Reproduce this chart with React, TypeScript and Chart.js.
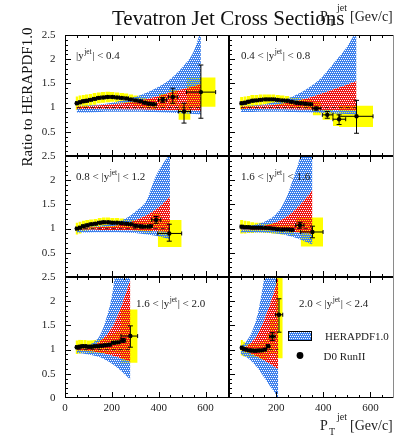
import React, { useEffect, useRef } from "react";
import { Chart, registerables } from "chart.js";
Chart.register(...registerables);

const SERIF = "'Liberation Serif', 'Times New Roman', serif";

// ---------- data: panel 1 (|y| < 0.4) ----------
const p1Pt = [50, 64, 78, 92, 109, 126, 144, 163, 182, 202, 222, 242, 262, 281, 301, 321, 341, 359, 378, 417, 460, 508, 580];
const p1Ratio = [1.09, 1.11, 1.13, 1.14, 1.16, 1.18, 1.2, 1.21, 1.22, 1.22, 1.21, 1.2, 1.19, 1.17, 1.15, 1.13, 1.1, 1.08, 1.07, 1.16, 1.22, 0.92, 1.32];
const p1XLo = [45, 57, 71, 85, 100, 117, 135, 153, 172, 192, 212, 232, 252, 271, 291, 311, 331, 350, 368, 399, 441, 484, 519];
const p1XHi = [57, 71, 85, 100, 117, 135, 153, 172, 192, 212, 232, 252, 271, 291, 311, 331, 350, 368, 390, 434, 481, 536, 643];
const p1ErrUp = [0, 0, 0, 0, 0, 0, 0, 0, 0, 0, 0, 0, 0, 0, 0, 0, 0, 0.02, 0.02, 0.05, 0.18, 0.17, 0.56];
const p1ErrDn = [0, 0, 0, 0, 0, 0, 0, 0, 0, 0, 0, 0, 0, 0, 0, 0, 0, 0.02, 0.02, 0.05, 0.13, 0.24, 0.54];
const p1Sys = [0.14, 0.14, 0.13, 0.13, 0.12, 0.12, 0.11, 0.11, 0.11, 0.1, 0.1, 0.1, 0.1, 0.1, 0.1, 0.1, 0.1, 0.1, 0.1, 0.14, 0.16, 0.17, 0.3];
const p1ThPt = [50, 100, 150, 200, 250, 300, 350, 400, 450, 500, 550, 580];
const p1BlueLo = [0.9, 0.9, 0.91, 0.915, 0.915, 0.915, 0.91, 0.905, 0.895, 0.885, 0.87, 0.86];
const p1RedLo = [0.97, 0.97, 0.968, 0.965, 0.962, 0.96, 0.955, 0.95, 0.945, 0.94, 0.935, 0.93];
const p1RedHi = [1.03, 1.035, 1.05, 1.07, 1.09, 1.13, 1.18, 1.24, 1.31, 1.38, 1.44, 1.48];
const p1BlueHi = [1.035, 1.045, 1.065, 1.1, 1.15, 1.22, 1.31, 1.43, 1.59, 1.83, 2.17, 2.6];

// ---------- panel 2 (0.4 < |y| < 0.8) ----------
const p2Pt = [54, 68, 82, 99, 116, 134, 153, 170, 188, 206, 226, 246, 266, 286, 305, 325, 345, 370, 417, 467, 541];
const p2Ratio = [1.09, 1.1, 1.12, 1.14, 1.15, 1.16, 1.17, 1.17, 1.17, 1.16, 1.15, 1.14, 1.12, 1.1, 1.09, 1.08, 1.07, 0.98, 0.85, 0.76, 0.82];
const p2XLo = [47, 61, 75, 90, 107, 125, 143, 161, 179, 197, 216, 236, 256, 276, 295, 315, 335, 355, 396, 441, 467];
const p2XHi = [61, 75, 90, 107, 125, 143, 161, 179, 197, 216, 236, 256, 276, 295, 315, 335, 355, 390, 441, 495, 611];
const p2ErrUp = [0, 0, 0, 0, 0, 0, 0, 0, 0, 0, 0, 0, 0, 0, 0, 0, 0, 0.03, 0.07, 0.09, 0.33];
const p2ErrDn = [0, 0, 0, 0, 0, 0, 0, 0, 0, 0, 0, 0, 0, 0, 0, 0, 0, 0.03, 0.07, 0.11, 0.35];
const p2Sys = [0.13, 0.13, 0.12, 0.12, 0.11, 0.11, 0.1, 0.1, 0.1, 0.1, 0.1, 0.1, 0.1, 0.1, 0.1, 0.1, 0.1, 0.14, 0.1, 0.14, 0.22];
const p2ThPt = [50, 100, 150, 200, 250, 300, 350, 400, 450, 500, 541];
const p2BlueLo = [0.91, 0.91, 0.915, 0.915, 0.91, 0.905, 0.9, 0.89, 0.88, 0.87, 0.86];
const p2RedLo = [0.97, 0.97, 0.968, 0.965, 0.96, 0.958, 0.955, 0.95, 0.945, 0.94, 0.935];
const p2RedHi = [1.03, 1.035, 1.045, 1.06, 1.1, 1.15, 1.22, 1.3, 1.39, 1.47, 1.55];
const p2BlueHi = [1.035, 1.045, 1.07, 1.12, 1.19, 1.3, 1.45, 1.66, 1.95, 2.25, 2.6];

// ---------- panel 3 (0.8 < |y| < 1.2) ----------
const p3Pt = [50, 64, 78, 95, 112, 130, 149, 165, 184, 202, 222, 242, 262, 281, 301, 321, 341, 363, 389, 445];
const p3Ratio = [1.0, 1.02, 1.05, 1.07, 1.09, 1.1, 1.12, 1.13, 1.13, 1.12, 1.12, 1.11, 1.1, 1.09, 1.06, 1.05, 1.04, 1.05, 1.18, 0.9];
const p3XLo = [45, 57, 71, 86, 103, 121, 139, 157, 174, 193, 212, 232, 252, 271, 291, 311, 331, 352, 370, 396];
const p3XHi = [57, 71, 86, 103, 121, 139, 157, 174, 193, 212, 232, 252, 271, 291, 311, 331, 352, 374, 409, 498];
const p3ErrUp = [0, 0, 0, 0, 0, 0, 0, 0, 0, 0, 0, 0, 0, 0, 0, 0, 0, 0.02, 0.07, 0.19];
const p3ErrDn = [0, 0, 0, 0, 0, 0, 0, 0, 0, 0, 0, 0, 0, 0, 0, 0, 0, 0.02, 0.07, 0.16];
const p3Sys = [0.12, 0.12, 0.11, 0.11, 0.1, 0.1, 0.1, 0.1, 0.1, 0.1, 0.1, 0.1, 0.1, 0.1, 0.1, 0.11, 0.12, 0.13, 0.15, 0.28];
const p3ThPt = [50, 100, 150, 200, 250, 300, 350, 380, 400, 448];
const p3BlueLo = [0.92, 0.92, 0.925, 0.925, 0.92, 0.91, 0.88, 0.86, 0.84, 0.78];
const p3RedLo = [0.975, 0.975, 0.97, 0.97, 0.965, 0.96, 0.95, 0.945, 0.94, 0.93];
const p3RedHi = [1.02, 1.025, 1.035, 1.05, 1.09, 1.17, 1.28, 1.37, 1.44, 1.66];
const p3BlueHi = [1.025, 1.035, 1.06, 1.11, 1.19, 1.35, 1.6, 2.0, 2.2, 2.55];

// ---------- panel 4 (1.2 < |y| < 1.6, printed "1.6 < |y| < 1.6") ----------
const p4Pt = [54, 68, 82, 99, 116, 134, 153, 170, 188, 206, 226, 246, 266, 301, 354];
const p4Ratio = [1.04, 1.03, 1.03, 1.02, 1.02, 1.02, 1.015, 1.01, 1.0, 0.99, 0.98, 0.985, 0.975, 1.07, 0.93];
const p4XLo = [47, 61, 75, 90, 107, 125, 143, 161, 179, 197, 216, 236, 256, 283, 304];
const p4XHi = [61, 75, 90, 107, 125, 143, 161, 179, 197, 216, 236, 256, 276, 318, 399];
const p4ErrUp = [0, 0, 0, 0, 0, 0, 0, 0, 0, 0, 0, 0.015, 0.02, 0.06, 0.12];
const p4ErrDn = [0, 0, 0, 0, 0, 0, 0, 0, 0, 0, 0, 0.015, 0.02, 0.06, 0.12];
const p4Sys = [0.14, 0.13, 0.12, 0.11, 0.1, 0.1, 0.1, 0.1, 0.1, 0.1, 0.1, 0.1, 0.11, 0.15, 0.3];
const p4ThPt = [50, 100, 150, 200, 240, 270, 300, 320, 354];
const p4BlueLo = [0.92, 0.92, 0.915, 0.9, 0.87, 0.83, 0.78, 0.74, 0.67];
const p4RedLo = [0.98, 0.975, 0.97, 0.96, 0.945, 0.93, 0.915, 0.905, 0.89];
const p4RedHi = [1.02, 1.03, 1.06, 1.13, 1.23, 1.34, 1.48, 1.59, 1.8];
const p4BlueHi = [1.04, 1.07, 1.14, 1.3, 1.6, 2.0, 2.45, 2.9, 3.6];

// ---------- panel 5 (1.6 < |y| < 2.0) ----------
const p5Pt = [50, 62, 74, 87, 100, 113, 127, 141, 156, 172, 190, 208, 226, 247, 279];
const p5Ratio = [1.05, 1.06, 1.07, 1.07, 1.06, 1.06, 1.07, 1.07, 1.08, 1.09, 1.1, 1.14, 1.15, 1.19, 1.28];
const p5XLo = [45, 56, 68, 80, 93, 107, 120, 134, 148, 164, 181, 199, 217, 235, 239];
const p5XHi = [56, 68, 80, 93, 107, 120, 134, 148, 164, 181, 199, 217, 235, 259, 310];
const p5ErrUp = [0, 0, 0, 0, 0, 0, 0, 0, 0, 0, 0, 0.02, 0.02, 0.04, 0.21];
const p5ErrDn = [0, 0, 0, 0, 0, 0, 0, 0, 0, 0, 0, 0.02, 0.02, 0.04, 0.23];
const p5Sys = [0.14, 0.14, 0.13, 0.13, 0.13, 0.13, 0.13, 0.14, 0.15, 0.16, 0.18, 0.2, 0.22, 0.3, 0.55];
const p5ThPt = [50, 75, 100, 125, 150, 175, 200, 225, 250, 279];
const p5BlueLo = [0.93, 0.92, 0.9, 0.875, 0.84, 0.78, 0.71, 0.62, 0.51, 0.37];
const p5RedLo = [0.98, 0.975, 0.97, 0.955, 0.935, 0.91, 0.88, 0.84, 0.8, 0.75];
const p5RedHi = [1.02, 1.03, 1.05, 1.09, 1.17, 1.29, 1.45, 1.7, 2.02, 2.45];
const p5BlueHi = [1.04, 1.06, 1.09, 1.16, 1.3, 1.62, 2.1, 2.95, 3.6, 4.3];

// ---------- panel 6 (2.0 < |y| < 2.4) ----------
const p6Pt = [54, 64, 74, 85, 97, 110, 124, 138, 152, 166, 184, 212];
const p6Ratio = [1.04, 1.01, 1.0, 0.985, 0.98, 0.975, 0.98, 0.985, 1.0, 1.07, 1.27, 1.72];
const p6XLo = [49, 59, 69, 79, 91, 103, 117, 131, 145, 159, 172, 198];
const p6XHi = [59, 69, 79, 91, 103, 117, 131, 145, 159, 172, 196, 228];
const p6ErrUp = [0, 0, 0, 0, 0, 0, 0, 0, 0.01, 0.02, 0.08, 0.33];
const p6ErrDn = [0, 0, 0, 0, 0, 0, 0, 0, 0.01, 0.02, 0.08, 0.36];
const p6Sys = [0.16, 0.15, 0.14, 0.14, 0.14, 0.15, 0.16, 0.18, 0.2, 0.25, 0.35, 0.9];
const p6ThPt = [50, 75, 100, 125, 150, 175, 200, 209];
const p6BlueLo = [0.9, 0.84, 0.74, 0.6, 0.42, 0.24, 0.06, -0.05];
const p6RedLo = [0.98, 0.95, 0.9, 0.84, 0.77, 0.7, 0.62, 0.6];
const p6RedHi = [1.03, 1.07, 1.17, 1.35, 1.62, 1.95, 2.35, 2.55];
const p6BlueHi = [1.06, 1.18, 1.4, 1.8, 2.5, 3.3, 4.2, 4.6];

// rapidity labels
const rapLo = ["", "0.4", "0.8", "1.6", "1.6", "2.0"];
const rapHi = ["0.4", "0.8", "1.2", "1.6", "2.0", "2.4"];

// axis ticks
const xTickLabels = [0, 200, 400, 600];
const yTickLabels = [0, 0.5, 1, 1.5, 2, 2.5];

// ---------- layout ----------
const W = 410, H = 436;
const COL_X = [65, 229, 394];
const ROW_Y = [35, 156, 277, 398];
const LABEL_POS = [[76, 59], [241, 59], [76, 180], [241, 180], [136, 307], [299, 307]];
const BLUE = "rgb(62,128,236)";
const RED = "rgb(238,22,22)";
const YELLOW = "#ffff00";

type PanelSpec = {
  pt: number[]; ratio: number[]; xLo: number[]; xHi: number[]; errUp: number[]; errDn: number[]; sys: number[];
  thPt: number[]; blueLo: number[]; redLo: number[]; redHi: number[]; blueHi: number[];
};

const PANELS: PanelSpec[] = [
  { pt: p1Pt, ratio: p1Ratio, xLo: p1XLo, xHi: p1XHi, errUp: p1ErrUp, errDn: p1ErrDn, sys: p1Sys, thPt: p1ThPt, blueLo: p1BlueLo, redLo: p1RedLo, redHi: p1RedHi, blueHi: p1BlueHi },
  { pt: p2Pt, ratio: p2Ratio, xLo: p2XLo, xHi: p2XHi, errUp: p2ErrUp, errDn: p2ErrDn, sys: p2Sys, thPt: p2ThPt, blueLo: p2BlueLo, redLo: p2RedLo, redHi: p2RedHi, blueHi: p2BlueHi },
  { pt: p3Pt, ratio: p3Ratio, xLo: p3XLo, xHi: p3XHi, errUp: p3ErrUp, errDn: p3ErrDn, sys: p3Sys, thPt: p3ThPt, blueLo: p3BlueLo, redLo: p3RedLo, redHi: p3RedHi, blueHi: p3BlueHi },
  { pt: p4Pt, ratio: p4Ratio, xLo: p4XLo, xHi: p4XHi, errUp: p4ErrUp, errDn: p4ErrDn, sys: p4Sys, thPt: p4ThPt, blueLo: p4BlueLo, redLo: p4RedLo, redHi: p4RedHi, blueHi: p4BlueHi },
  { pt: p5Pt, ratio: p5Ratio, xLo: p5XLo, xHi: p5XHi, errUp: p5ErrUp, errDn: p5ErrDn, sys: p5Sys, thPt: p5ThPt, blueLo: p5BlueLo, redLo: p5RedLo, redHi: p5RedHi, blueHi: p5BlueHi },
  { pt: p6Pt, ratio: p6Ratio, xLo: p6XLo, xHi: p6XHi, errUp: p6ErrUp, errDn: p6ErrDn, sys: p6Sys, thPt: p6ThPt, blueLo: p6BlueLo, redLo: p6RedLo, redHi: p6RedHi, blueHi: p6BlueHi },
];

function makePattern(color: string): CanvasPattern {
  const c = document.createElement("canvas");
  c.width = 4; c.height = 4;
  const g = c.getContext("2d")!;
  g.fillStyle = color;
  g.fillRect(0, 0, 4, 4);
  [[0, 0], [2, 0], [1, 2], [3, 2]].forEach(([a, b]) => g.clearRect(a, b, 1, 1));
  return g.createPattern(c, "repeat")!;
}

function seg(ctx: CanvasRenderingContext2D, x1: number, y1: number, x2: number, y2: number) {
  ctx.moveTo(x1, y1);
  ctx.lineTo(x2, y2);
}

function fmt(v: number) {
  return String(v);
}

function drawPtTitle(ctx: CanvasRenderingContext2D, x: number, b: number) {
  ctx.textAlign = "left";
  ctx.textBaseline = "alphabetic";
  ctx.font = `14px ${SERIF}`;
  ctx.fillText("P", x, b);
  ctx.font = `10px ${SERIF}`;
  ctx.fillText("T", x + 9, b + 5);
  ctx.fillText("jet", x + 17, b - 10);
  ctx.font = `14px ${SERIF}`;
  ctx.fillText("[Gev/c]", x + 30, b);
}

function drawRapidity(ctx: CanvasRenderingContext2D, x: number, y: number, lo: string, hi: string) {
  ctx.fillStyle = "#1a1a1a";
  ctx.textAlign = "left";
  ctx.textBaseline = "alphabetic";
  ctx.font = `11px ${SERIF}`;
  const a = (lo ? lo + " < " : "") + "|y";
  ctx.fillText(a, x, y);
  let cx = x + ctx.measureText(a).width + 0.5;
  ctx.font = `7.5px ${SERIF}`;
  ctx.fillText("jet", cx, y - 5);
  cx += ctx.measureText("jet").width + 0.5;
  ctx.font = `11px ${SERIF}`;
  ctx.fillText("| < " + hi, cx, y);
}

function Panel({ p, idx }: { p: PanelSpec; idx: number }) {
  const ref = useRef<HTMLCanvasElement | null>(null);
  useEffect(() => {
    const canvas = ref.current;
    if (!canvas) return;
    const col = idx % 2, row = Math.floor(idx / 2);
    const blue = makePattern(BLUE);
    const red = makePattern(RED);
    const datasets: any[] = [];
    const hidden = { borderWidth: 0, borderColor: "rgba(0,0,0,0)", pointRadius: 0 };

    // systematic (yellow) boxes
    p.pt.forEach((_, i) => {
      const r = p.ratio[i], s = p.sys[i];
      datasets.push({ ...hidden, data: [{ x: p.xLo[i], y: r - s }, { x: p.xHi[i], y: r - s }], fill: false, order: 100 });
      datasets.push({ ...hidden, data: [{ x: p.xLo[i], y: r + s }, { x: p.xHi[i], y: r + s }], fill: "-1", backgroundColor: YELLOW, order: 100 });
    });

    // theory bands
    const th = (arr: number[]) => p.thPt.map((x, i) => ({ x, y: arr[i] }));
    const band = { ...hidden, cubicInterpolationMode: "monotone", order: 50 };
    datasets.push({ ...band, data: th(p.blueLo), fill: false });
    datasets.push({ ...band, data: th(p.redLo), fill: "-1", backgroundColor: blue });
    datasets.push({ ...band, data: th(p.redHi), fill: "-1", backgroundColor: red });
    datasets.push({ ...band, data: th(p.blueHi), fill: "-1", backgroundColor: blue });

    // central line at ratio 1
    datasets.push({
      data: [{ x: p.thPt[0], y: 1 }, { x: p.thPt[p.thPt.length - 1], y: 1 }],
      borderColor: "rgba(50,20,20,0.85)", borderWidth: 1, borderDash: [4, 3], pointRadius: 0, fill: false, order: 40,
    });

    // data markers
    datasets.push({
      data: p.pt.map((x, i) => ({ x, y: p.ratio[i] })),
      showLine: false, pointRadius: 2.2, pointBackgroundColor: "#000", pointBorderColor: "#000", pointBorderWidth: 0, order: 0,
    });

    const plugin = {
      id: "rootPanel" + idx,
      afterDatasetsDraw(chart: any) {
        const ctx: CanvasRenderingContext2D = chart.ctx;
        const xs = chart.scales.x, ys = chart.scales.y;
        ctx.save();
        ctx.strokeStyle = "#000";
        ctx.lineWidth = 1;
        ctx.beginPath();
        p.pt.forEach((x, i) => {
          const px = xs.getPixelForValue(x), py = ys.getPixelForValue(p.ratio[i]);
          const l = xs.getPixelForValue(p.xLo[i]), r = xs.getPixelForValue(p.xHi[i]);
          seg(ctx, l, py, r, py);
          seg(ctx, l, py - 2, l, py + 2);
          seg(ctx, r, py - 2, r, py + 2);
          if (p.errUp[i] + p.errDn[i] > 0) {
            const t = ys.getPixelForValue(p.ratio[i] + p.errUp[i]);
            const b = ys.getPixelForValue(p.ratio[i] - p.errDn[i]);
            seg(ctx, px, t, px, b);
            seg(ctx, px - 2.5, t, px + 2.5, t);
            seg(ctx, px - 2.5, b, px + 2.5, b);
          }
        });
        ctx.stroke();
        ctx.restore();
      },
      afterDraw(chart: any) {
        const ctx: CanvasRenderingContext2D = chart.ctx;
        const xs = chart.scales.x, ys = chart.scales.y;
        const { left, top, right, bottom } = chart.chartArea;
        ctx.save();
        // frame
        ctx.lineWidth = 1;
        ctx.strokeStyle = "#000";
        ctx.beginPath();
        seg(ctx, left + 0.5, top, left + 0.5, bottom);
        seg(ctx, left, top + 0.5, right, top + 0.5);
        seg(ctx, left, bottom - 0.5, right, bottom - 0.5);
        if (col === 0) seg(ctx, right - 0.5, top, right - 0.5, bottom);
        ctx.stroke();
        if (col === 1) {
          ctx.strokeStyle = "#8a8a8a";
          ctx.beginPath();
          seg(ctx, right - 0.5, top, right - 0.5, bottom);
          ctx.stroke();
          ctx.strokeStyle = "#000";
        }
        // ticks
        ctx.beginPath();
        for (let v = 50; v < 700; v += 50) {
          const x = Math.round(xs.getPixelForValue(v)) + 0.5;
          const len = v % 200 === 0 ? 6 : 3;
          seg(ctx, x, bottom, x, bottom - len);
          seg(ctx, x, top, x, top + len);
        }
        for (let k = 1; k < 25; k++) {
          const y = Math.round(ys.getPixelForValue(k / 10)) + 0.5;
          const len = k % 5 === 0 ? 6 : 3;
          seg(ctx, left, y, left + len, y);
        }
        ctx.stroke();
        // tick labels
        ctx.fillStyle = "#222";
        ctx.font = `11px ${SERIF}`;
        if (col === 0) {
          ctx.textAlign = "right";
          ctx.textBaseline = "middle";
          yTickLabels.forEach((v) => {
            if (v === 0 && row !== 2) return;
            ctx.fillText(fmt(v), left - 9.5, ys.getPixelForValue(v));
          });
        }
        if (row === 2) {
          ctx.textAlign = "center";
          ctx.textBaseline = "top";
          xTickLabels.forEach((v) => {
            if (v === 0 && col === 1) return;
            ctx.fillText(fmt(v), xs.getPixelForValue(v), bottom + 5);
          });
        }
        // rapidity label
        drawRapidity(ctx, LABEL_POS[idx][0], LABEL_POS[idx][1], rapLo[idx], rapHi[idx]);

        // legend in last panel
        if (idx === 5) {
          ctx.fillStyle = blue;
          ctx.fillRect(288, 331, 24, 9.5);
          ctx.strokeStyle = "#000";
          ctx.lineWidth = 1;
          ctx.strokeRect(288.5, 331.5, 23, 9);
          ctx.fillStyle = "#000";
          ctx.beginPath();
          ctx.arc(300, 355.5, 3.4, 0, Math.PI * 2);
          ctx.fill();
          ctx.fillStyle = "#1a1a1a";
          ctx.font = `11px ${SERIF}`;
          ctx.textAlign = "left";
          ctx.textBaseline = "alphabetic";
          ctx.fillText("HERAPDF1.0", 325, 339.5);
          ctx.fillText("D0 RunII", 323.5, 359.5);
        }

        // global texts
        if (idx === 0) {
          ctx.fillStyle = "#111";
          ctx.textAlign = "left";
          ctx.textBaseline = "alphabetic";
          ctx.font = `21px ${SERIF}`;
          ctx.fillText("Tevatron Jet Cross Sections", 112, 24.5);
          ctx.fillStyle = "#222";
          drawPtTitle(ctx, 320, 21);
          drawPtTitle(ctx, 320, 430);
          ctx.save();
          ctx.translate(32, 97);
          ctx.rotate(-Math.PI / 2);
          ctx.textAlign = "center";
          ctx.textBaseline = "alphabetic";
          ctx.font = `15px ${SERIF}`;
          ctx.fillStyle = "#111";
          ctx.fillText("Ratio to HERAPDF1.0", 0, 0);
          ctx.restore();
        }
        ctx.restore();
      },
    };

    const chart = new Chart(canvas, {
      type: "line",
      data: { datasets },
      options: {
        animation: false,
        responsive: false,
        devicePixelRatio: 1,
        events: [],
        layout: {
          padding: { left: COL_X[col], top: ROW_Y[row], right: W - COL_X[col + 1], bottom: H - ROW_Y[row + 1] },
        },
        scales: {
          x: { type: "linear", min: 0, max: 700, display: false },
          y: { type: "linear", min: 0, max: 2.5, display: false },
        },
        plugins: { legend: { display: false }, tooltip: { enabled: false }, title: { display: false } },
      } as any,
      plugins: [plugin],
    });
    return () => chart.destroy();
  }, [p, idx]);
  return <canvas ref={ref} width={W} height={H} style={{ position: "absolute", left: 0, top: 0, width: W, height: H }} />;
}

export default function App() {
  return (
    <div style={{ position: "fixed", left: 0, top: 0, width: W, height: H, background: "#fff", overflow: "hidden" }}>
      {PANELS.map((p, i) => (
        <Panel key={i} p={p} idx={i} />
      ))}
    </div>
  );
}
